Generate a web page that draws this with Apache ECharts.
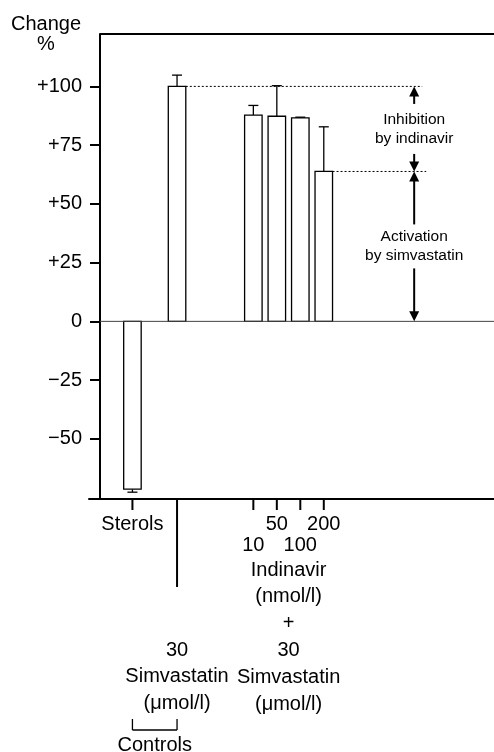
<!DOCTYPE html>
<html>
<head>
<meta charset="UTF-8">
<title>Change %</title>
<script src="https://cdn.jsdelivr.net/npm/echarts@6/dist/echarts.min.js"></script>
<style>
html, body { margin: 0; padding: 0; background: #fff; }
#main { width: 494px; height: 752px; }
</style>
</head>
<body>
<div id="main"></div>
<script>
// values (change in %)
var groupNames = ['Sterols', 'Simvastatin', '10', '50', '100', '200'];
var means = [-71.4, 100, 87.8, 87.3, 86.6, 63.8];
var errs = [1.3, 4.8, 4.1, 13.0, 0.3, 19.0];
var yTicks = [-50, -25, 0, 25, 50, 75, 100];

// layout only: where each bar sits on the hidden x scale, and label row
var slots = [1.85, 3.75, 7, 8, 9, 10];
var labelRow = [0, -1, 1, 0, 1, 0];
var arrowSlot = 13.85;

var FONT = '"Liberation Sans", Arial, sans-serif';
var INK = '#000';

var chart = echarts.init(document.getElementById('main'));

var barData = means.map(function (m, i) { return [slots[i], m, errs[i]]; });

function line(x1, y1, x2, y2, w, dash, col) {
    return {
        type: 'line',
        shape: { x1: x1, y1: y1, x2: x2, y2: y2 },
        style: { stroke: col || INK, lineWidth: w, lineDash: dash || null }
    };
}

function txt(x, y, s, size, lh, va) {
    return {
        type: 'text', x: x, y: y,
        style: {
            text: s, fill: INK, fontSize: size, fontFamily: FONT,
            align: 'center', verticalAlign: va || 'middle', lineHeight: lh
        }
    };
}

function head(x, yTip, dir) {
    // dir -1: points up, +1: points down
    var h = 10, hw = 5;
    return {
        type: 'polygon',
        shape: { points: [[x, yTip], [x - hw, yTip - dir * h], [x + hw, yTip - dir * h]] },
        style: { fill: INK }
    };
}

function renderBar(params, api) {
    var x = api.value(0), v = api.value(1), e = api.value(2);
    var top = api.coord([x, v]);
    var base = api.coord([x, 0]);
    var dir = v < 0 ? -1 : 1;
    var tip = api.coord([x, v + dir * e]);
    var w = 17.5, cap = 10;
    return {
        type: 'group',
        children: [
            line(top[0], top[1], tip[0], tip[1], 1.3),
            line(tip[0] - cap / 2, tip[1], tip[0] + cap / 2, tip[1], 1.3),
            {
                type: 'rect',
                shape: { x: top[0] - w / 2, y: Math.min(top[1], base[1]), width: w, height: Math.abs(base[1] - top[1]) },
                style: { fill: '#fff', stroke: INK, lineWidth: 1.3 }
            }
        ]
    };
}

function renderNotes(params, api) {
    var g = params.coordSys;
    var axisX = g.x + 11;
    var right = g.x + g.width;
    var axisY = g.y + g.height;
    var halfBar = 17.5 / 2;
    var ax = api.coord([arrowSlot, 0])[0];
    var y0 = api.coord([0, 0])[1];
    var yHi = api.coord([0, means[1]])[1];
    var yLo = api.coord([0, means[5]])[1];
    var xSimv = api.coord([slots[1], 0])[0];
    var xLast = api.coord([slots[5], 0])[0];
    var xSter = api.coord([slots[0], 0])[0];
    var xInd = api.coord([(slots[2] + slots[5]) / 2, 0])[0];
    var midA = (yHi + yLo) / 2, midB = (yLo + y0) / 2;

    var kids = [
        // top frame
        line(axisX, g.y, right, g.y, 2),
        // zero line
        line(axisX, y0, right, y0, 1, null, '#444'),
        // dotted guides
        line(xSimv + halfBar, yHi, ax + 8, yHi, 1, [2, 2]),
        line(xLast + halfBar, yLo, ax + 12, yLo, 1, [2, 2]),
        // inhibition arrow
        head(ax, yHi, -1),
        line(ax, yHi + 9, ax, midA - 25, 2),
        txt(ax, midA, 'Inhibition\nby indinavir', 15.5, 19),
        line(ax, midA + 25, ax, yLo - 9, 2),
        head(ax, yLo, 1),
        // activation arrow
        head(ax, yLo, -1),
        line(ax, yLo + 9, ax, midB - 22, 2),
        txt(ax, midB, 'Activation\nby simvastatin', 15.5, 19),
        line(ax, midB + 22, ax, y0 - 9, 2),
        head(ax, y0, 1),
        // y axis name
        txt(axisX - 54, g.y - 20, 'Change\n%', 20, 20, 'top'),
        // long separator tick under the simvastatin control
        line(xSimv, axisY, xSimv, axisY + 88, 2),
        // group labels
        txt(xInd, axisY + 57.6, 'Indinavir\n(nmol/l)\n+\n30\nSimvastatin\n(\u03bcmol/l)', 20, 26.8, 'top'),
        txt(xSimv, axisY + 137.6, '30\nSimvastatin\n(\u03bcmol/l)', 20, 26.8, 'top'),
        // controls bracket
        line(xSter, axisY + 220, xSter, axisY + 231, 1.3),
        line(xSter, axisY + 231, xSimv, axisY + 231, 1.3),
        line(xSimv, axisY + 220, xSimv, axisY + 231, 1.3),
        txt((xSter + xSimv) / 2, axisY + 246, 'Controls', 20, 20)
    ];

    // short ticks and staggered labels under the bars
    slots.forEach(function (s, i) {
        if (labelRow[i] < 0) return;
        var x = api.coord([s, 0])[0];
        kids.push(line(x, axisY, x, axisY + 11, 2));
        kids.push(txt(x, axisY + 25 + labelRow[i] * 21, groupNames[i], 20, 20));
    });

    return { type: 'group', children: kids };
}

var option = {
    animation: false,
    grid: { left: 89, right: 0, top: 34, bottom: 253 },
    xAxis: {
        type: 'value',
        min: 0,
        max: 17.25,
        splitLine: { show: false },
        axisLine: { onZero: false, lineStyle: { color: INK, width: 2 } },
        axisTick: { show: false },
        axisLabel: { show: false }
    },
    yAxis: {
        type: 'value',
        min: -75.6,
        max: 122.3,
        offset: -11,
        splitLine: { show: false },
        axisLine: { show: true, lineStyle: { color: INK, width: 2 } },
        axisTick: {
            show: true,
            customValues: yTicks,
            length: 10,
            lineStyle: { color: INK, width: 2 }
        },
        axisLabel: {
            customValues: yTicks,
            margin: 18,
            color: INK,
            fontSize: 20,
            fontFamily: FONT,
            formatter: function (v) {
                if (v > 0) return '+' + v;
                if (v < 0) return '\u2212' + (-v);
                return '0';
            }
        }
    },
    series: [
        {
            type: 'custom',
            renderItem: renderBar,
            data: barData,
            z: 3
        },
        {
            type: 'custom',
            renderItem: renderNotes,
            data: [[0, 0]],
            clip: false,
            z: 4
        }
    ]
};

chart.setOption(option);
</script>
</body>
</html>
